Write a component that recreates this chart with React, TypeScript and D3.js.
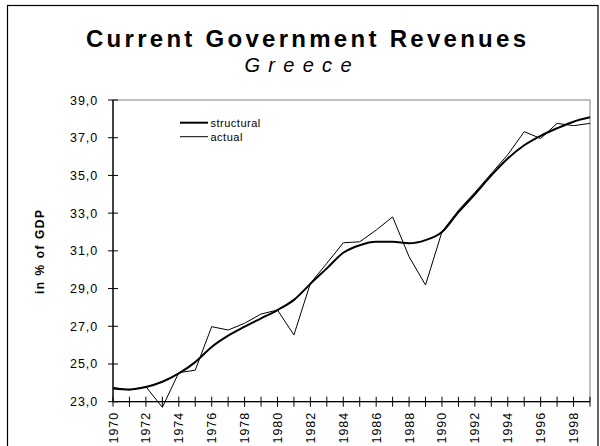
import React from "react";
import * as d3 from "d3";

const years: number[] = d3.range(1970, 2000);
const structural: number[] = [
  23.7, 23.65, 23.78, 24.06, 24.5, 25.1, 25.9, 26.5, 26.98, 27.42,
  27.86, 28.4, 29.25, 30.07, 30.9, 31.3, 31.48, 31.48, 31.4, 31.57,
  32.0, 33.05, 34.0, 35.0, 35.9, 36.6, 37.1, 37.5, 37.85, 38.08,
];
const actual: number[] = [
  23.76, 23.62, 23.8, 22.7, 24.54, 24.67, 26.98, 26.8, 27.16, 27.65,
  27.86, 26.54, 29.28, 30.34, 31.43, 31.48, 32.1, 32.8, 30.69, 29.19,
  32.01, 33.15, 34.1, 35.1, 36.1, 37.32, 36.96, 37.76, 37.64, 37.76,
];
const yTicks: number[] = [23, 25, 27, 29, 31, 33, 35, 37, 39];
const xLabelYears: number[] = years.filter((y) => (y - 1970) % 2 === 0);
const title = "Current Government Revenues";
const subtitle = "Greece";
const yTitle = "in % of GDP";
const seriesNames = ["structural", "actual"];

const FONT = "'Liberation Sans', Arial, sans-serif";

export default function App() {
  const left = 113, right = 590, top = 100, bottom = 401.7;
  const x = d3.scaleLinear().domain([1970, 1999]).range([left, right]);
  const y = d3.scaleLinear().domain([23, 39]).range([bottom, top]);

  const lineS = d3
    .line<number>()
    .x((_, i) => x(years[i]))
    .y((d) => y(d))
    .curve(d3.curveMonotoneX);
  const lineA = d3
    .line<number>()
    .x((_, i) => x(years[i]))
    .y((d) => y(d));

  const fmt = (v: number) => v.toFixed(1).replace(".", ",");

  return (
    <svg
      width={600}
      height={446}
      style={{ position: "absolute", left: 0, top: 0, background: "#fff" }}
      fontFamily={FONT}
    >
      <rect x={0} y={0} width={600} height={446} fill="#fff" />
      <rect x={7.5} y={5.5} width={590.5} height={450} fill="none" stroke="#000" strokeWidth={1.2} />

      <text
        x={306}
        y={47}
        textAnchor="middle"
        fontSize={24}
        fontWeight="bold"
        textLength={440}
        lengthAdjust="spacing"
      >
        {title}
      </text>
      <text
        x={298}
        y={71.5}
        textAnchor="middle"
        fontSize={20}
        fontStyle="italic"
        textLength={107}
        lengthAdjust="spacing"
      >
        {subtitle}
      </text>

      {/* plot area border */}
      <rect x={left} y={top} width={right - left} height={bottom - top} fill="none" stroke="#808080" strokeWidth={1} />

      {/* y axis */}
      <line x1={left} x2={left} y1={top} y2={bottom} stroke="#000" strokeWidth={1.3} />
      {yTicks.map((t) => (
        <g key={t}>
          <line x1={left - 5} x2={left + 5} y1={y(t)} y2={y(t)} stroke="#000" strokeWidth={1} />
          <text x={98} y={y(t)} dy="0.36em" textAnchor="end" fontSize={12.5} letterSpacing={0.9}>
            {fmt(t)}
          </text>
        </g>
      ))}

      {/* x axis */}
      <line x1={left} x2={right} y1={bottom} y2={bottom} stroke="#000" strokeWidth={1.3} />
      {years.map((yr) => (
        <line key={yr} x1={x(yr)} x2={x(yr)} y1={bottom - 5} y2={bottom + 5} stroke="#000" strokeWidth={1} />
      ))}
      {xLabelYears.map((yr) => (
        <text
          key={yr}
          transform={`translate(${x(yr)},${412}) rotate(-90)`}
          dy="0.36em"
          textAnchor="end"
          fontSize={12.5}
          letterSpacing={0.9}
        >
          {yr}
        </text>
      ))}

      <text
        transform={`translate(40,252) rotate(-90)`}
        dy="0.36em"
        textAnchor="middle"
        fontSize={12}
        fontWeight="bold"
        textLength={84}
        lengthAdjust="spacing"
      >
        {yTitle}
      </text>

      {/* series */}
      <path d={lineA(actual) || ""} fill="none" stroke="#000" strokeWidth={1} />
      <path d={lineS(structural) || ""} fill="none" stroke="#000" strokeWidth={2} />

      {/* legend */}
      <line x1={180} x2={208} y1={122.7} y2={122.7} stroke="#000" strokeWidth={2} />
      <text x={210.5} y={122.7} dy="0.36em" fontSize={11} letterSpacing={0.5}>
        {seriesNames[0]}
      </text>
      <line x1={180} x2={208} y1={136.7} y2={136.7} stroke="#000" strokeWidth={1} />
      <text x={210.5} y={136.7} dy="0.36em" fontSize={11} letterSpacing={0.5}>
        {seriesNames[1]}
      </text>
    </svg>
  );
}
